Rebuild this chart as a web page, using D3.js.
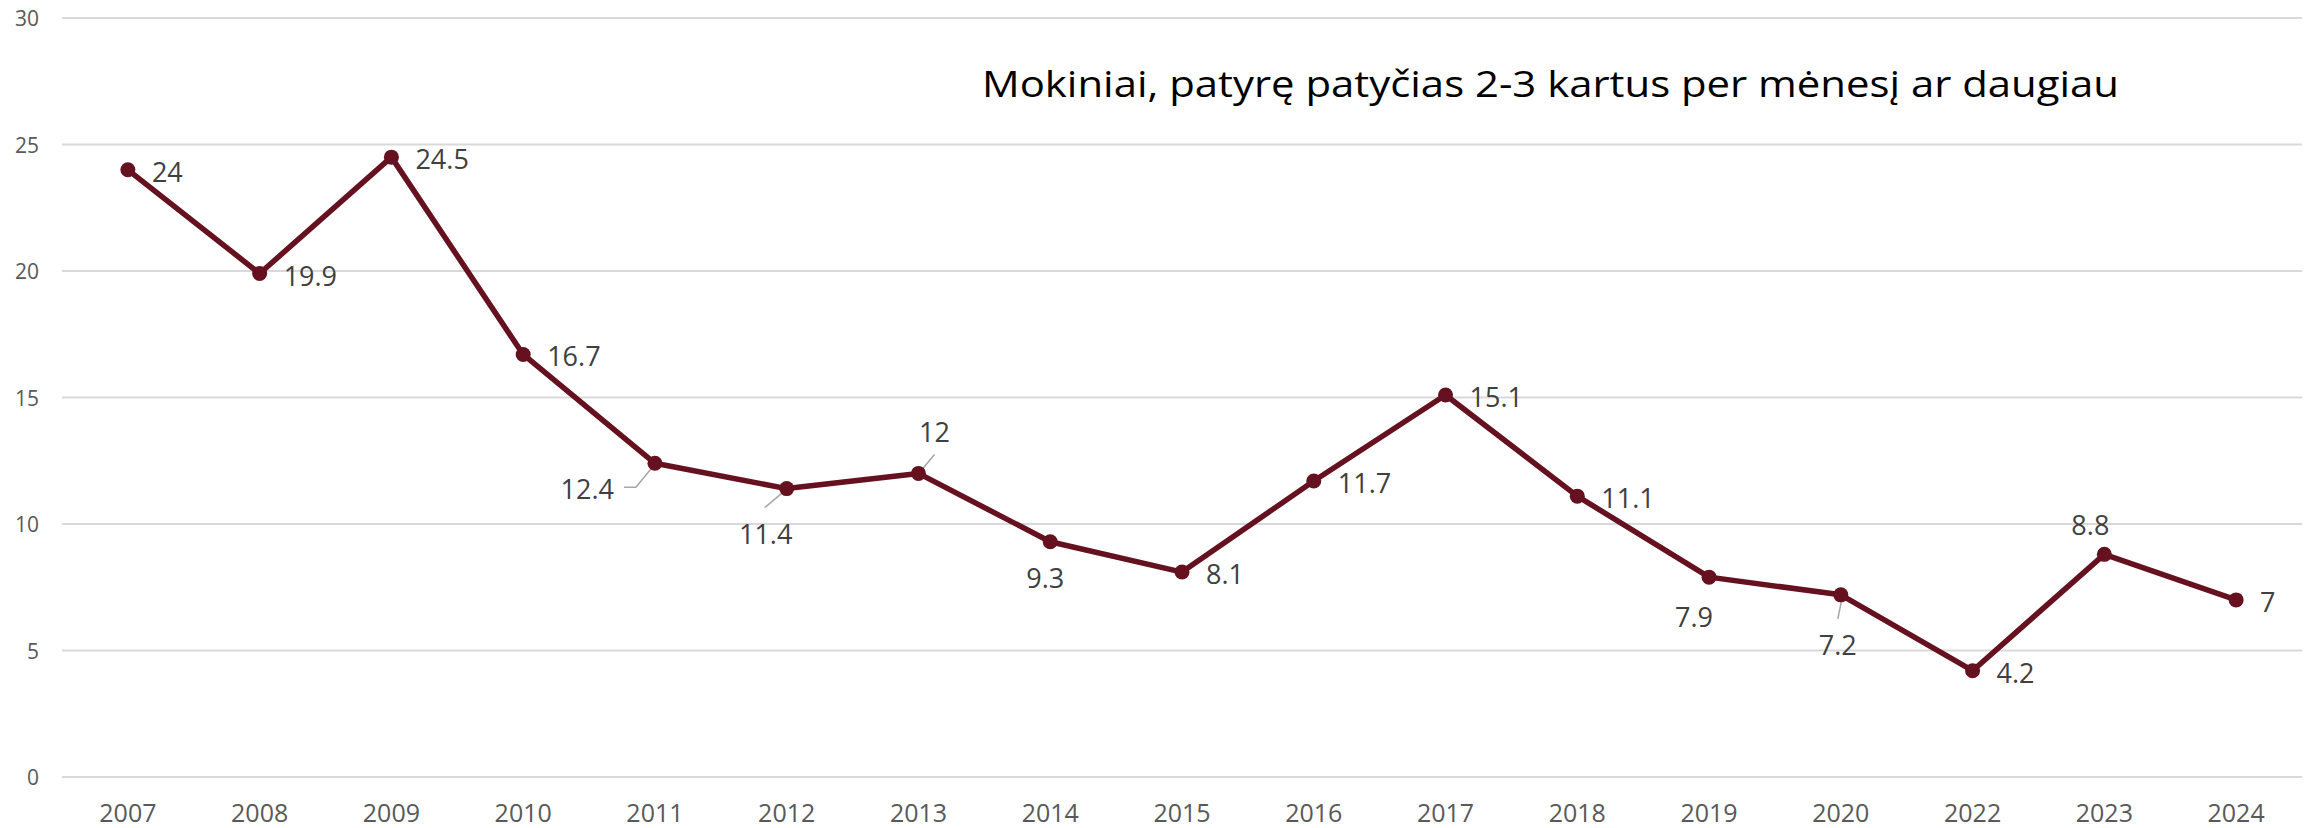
<!DOCTYPE html>
<html>
<head>
<meta charset="utf-8">
<script src="https://cdn.jsdelivr.net/npm/d3@7"></script>
<style>
  body { margin: 0; background: #fff; }
  text { font-family: "Open Sans", "Noto Sans", sans-serif; }
</style>
</head>
<body>
<svg width="2308" height="828"></svg>
<script>
// chart values
var years = ["2007", "2008", "2009", "2010", "2011", "2012", "2013", "2014", "2015",
             "2016", "2017", "2018", "2019", "2020", "2022", "2023", "2024"];
var values = [24, 19.9, 24.5, 16.7, 12.4, 11.4, 12, 9.3, 8.1, 11.7, 15.1, 11.1, 7.9, 7.2, 4.2, 8.8, 7];
var yTicks = [0, 5, 10, 15, 20, 25, 30];
var title = "Mokiniai, patyrę patyčias 2-3 kartus per mėnesį ar daugiau";

// where the value labels sit (default: right of the point)
var labelSpots = {
  "2011": {dx: -41, dy: 36, anchor: "end", leader: [[-31, 24], [-19, 24], [-1, 2]]},
  "2012": {dx: -21, dy: 55, anchor: "middle", leader: [[-22, 19], [-3, 3]]},
  "2013": {dx: 16, dy: -31, anchor: "middle", leader: [[16, -19], [2, -2]]},
  "2014": {dx: -5, dy: 46, anchor: "middle"},
  "2019": {dx: -15, dy: 50, anchor: "middle"},
  "2020": {dx: -3, dy: 60, anchor: "middle", leader: [[-3, 24], [1, 4]]},
  "2023": {dx: -14, dy: -19, anchor: "middle"}
};

var svg = d3.select("svg");
var data = years.map(function(y, i) { return {year: y, value: values[i]}; });

var x = d3.scaleBand().domain(years).range([62, 2302]);
var y = d3.scaleLinear().domain([0, 30]).range([777, 18]);

var lineColor = "#65111f";

// gridlines
svg.append("g")
  .selectAll("line")
  .data(yTicks)
  .enter().append("line")
    .attr("x1", 62).attr("x2", 2302)
    .attr("y1", function(d) { return y(d); })
    .attr("y2", function(d) { return y(d); })
    .attr("stroke", "#d9d9d9")
    .attr("stroke-width", 2);

// y labels
svg.append("g")
  .selectAll("text")
  .data(yTicks)
  .enter().append("text")
    .attr("x", 39)
    .attr("y", function(d) { return y(d) + 8; })
    .attr("text-anchor", "end")
    .attr("font-size", 21)
    .attr("fill", "#595959")
    .text(function(d) { return d; });

// x labels
var xAxis = d3.axisBottom(x).tickSize(0).tickPadding(0);
var gx = svg.append("g")
  .attr("transform", "translate(0,777)")
  .call(xAxis);
gx.select(".domain").remove();
gx.selectAll("text")
  .attr("y", 45)
  .attr("dy", 0)
  .attr("font-size", 25)
  .attr("font-family", "Open Sans")
  .attr("fill", "#595959");

// title
svg.append("text")
  .attr("x", 982)
  .attr("y", 97)
  .attr("font-size", 37)
  .attr("fill", "#000")
  .attr("textLength", 1137)
  .attr("lengthAdjust", "spacingAndGlyphs")
  .text(title);

// line
var line = d3.line()
  .x(function(d) { return x(d.year) + x.bandwidth() / 2; })
  .y(function(d) { return y(d.value); });

svg.append("path")
  .datum(data)
  .attr("d", line)
  .attr("fill", "none")
  .attr("stroke", lineColor)
  .attr("stroke-width", 5.5)
  .attr("stroke-linejoin", "round");

// leader lines
svg.append("g")
  .selectAll("path")
  .data(data.filter(function(d) { return labelSpots[d.year] && labelSpots[d.year].leader; }))
  .enter().append("path")
    .attr("d", function(d) {
      var cx = x(d.year) + x.bandwidth() / 2, cy = y(d.value);
      return d3.line()(labelSpots[d.year].leader.map(function(p) { return [cx + p[0], cy + p[1]]; }));
    })
    .attr("fill", "none")
    .attr("stroke", "#a6a6a6")
    .attr("stroke-width", 1.5);

// markers
svg.append("g")
  .selectAll("circle")
  .data(data)
  .enter().append("circle")
    .attr("cx", function(d) { return x(d.year) + x.bandwidth() / 2; })
    .attr("cy", function(d) { return y(d.value); })
    .attr("r", 7.5)
    .attr("fill", lineColor);

// value labels
svg.append("g")
  .selectAll("text")
  .data(data)
  .enter().append("text")
    .attr("x", function(d) {
      var s = labelSpots[d.year];
      return x(d.year) + x.bandwidth() / 2 + (s ? s.dx : 24);
    })
    .attr("y", function(d) {
      var s = labelSpots[d.year];
      return y(d.value) + (s ? s.dy : 12);
    })
    .attr("text-anchor", function(d) {
      var s = labelSpots[d.year];
      return s ? s.anchor : "start";
    })
    .attr("font-size", 27)
    .attr("fill", "#404040")
    .text(function(d) { return d.value; });
</script>
</body>
</html>
